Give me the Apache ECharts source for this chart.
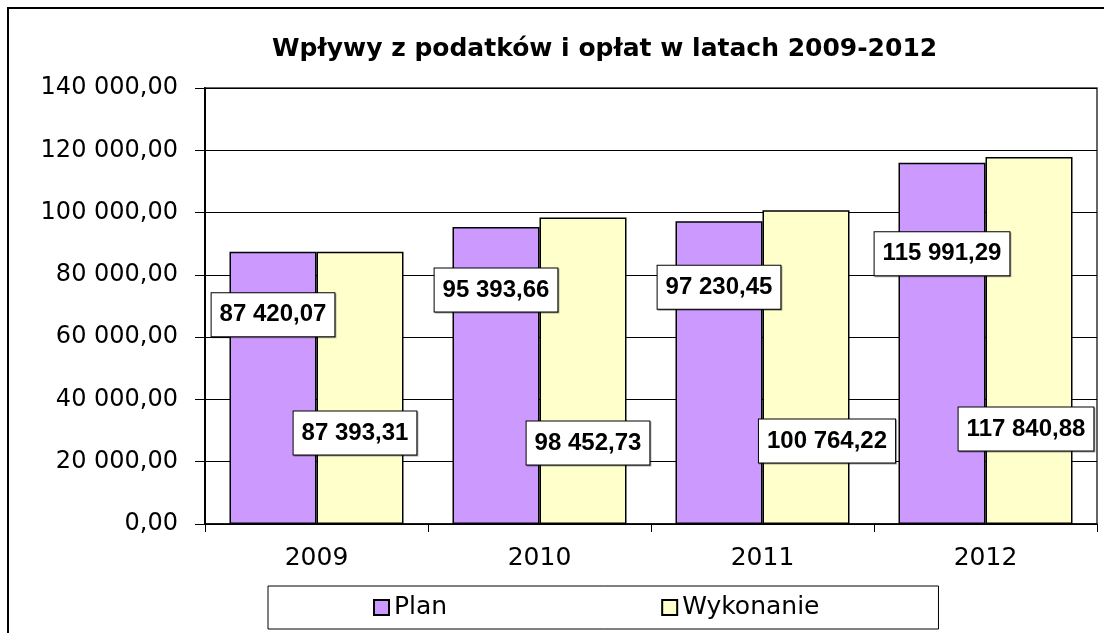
<!DOCTYPE html>
<html lang="pl">
<head>
    <meta charset="UTF-8">
    <title>Wpływy z podatków i opłat</title>
    <script src="https://cdn.jsdelivr.net/npm/echarts@6/dist/echarts.min.js"></script>
    <style>
        html, body { margin: 0; padding: 0; background: #fff; }
    </style>
</head>
<body>
<div id="chart" style="width: 1104px; height: 633px;"></div>
<script>
    var years = ['2009', '2010', '2011', '2012'];
    var plan = [87420.07, 95393.66, 97230.45, 115991.29];
    var wykonanie = [87393.31, 98452.73, 100764.22, 117840.88];

    // where Excel had the value boxes dragged to (px)
    var planLabelDown = [63, 63, 66, 91];
    var wykLabelUp = [91, 81, 83, 95];
    var wykLabelDx = [-5, 5, 21, -3];

    function fmt(v, dec) {
        var parts = v.toFixed(dec).split('.');
        var s = parts[0].replace(/\B(?=(\d{3})+(?!\d))/g, ' ');
        return s + ',' + (parts[1] || '00');
    }

    var labelBox = {
        show: true,
        align: 'center',
        verticalAlign: 'middle',
        fontFamily: 'Liberation Sans',
        fontWeight: 'bold',
        fontSize: 24,
        lineHeight: 24,
        color: '#000',
        backgroundColor: '#fff',
        borderColor: '#000',
        borderWidth: 1,
        padding: [10, 8, 9, 8],
        shadowColor: 'rgba(0,0,0,0.35)',
        shadowOffsetX: 1,
        shadowOffsetY: 1,
        formatter: function (p) { return fmt(p.value, 2); }
    };

    var planData = plan.map(function (v, i) {
        return {
            value: v,
            label: Object.assign({}, labelBox, {position: ['50%', planLabelDown[i]]})
        };
    });
    var wykData = wykonanie.map(function (v, i) {
        return {
            value: v,
            label: Object.assign({}, labelBox, {position: ['50%', '100%'], offset: [wykLabelDx[i], -wykLabelUp[i]]})
        };
    });

    var chart = echarts.init(document.getElementById('chart'));
    chart.setOption({
        backgroundColor: '#fff',
        animation: false,
        title: {
            text: 'Wpływy z podatków i opłat w latach 2009-2012',
            left: 272,
            top: 37,
            padding: 0,
            textStyle: {
                fontFamily: 'DejaVu Sans',
                fontWeight: 'bold',
                fontSize: 25,
                color: '#000'
            }
        },
        graphic: [{
            type: 'rect',
            silent: true,
            z: 100,
            shape: {x: 8, y: 8, width: 1200, height: 700},
            style: {fill: 'none', stroke: '#000', lineWidth: 2}
        }],
        legend: {
            left: 268,
            top: 586,
            padding: [9, 119, 9, 105],
            itemGap: 214,
            itemWidth: 15,
            itemHeight: 15,
            borderColor: '#000',
            borderWidth: 1,
            icon: 'rect',
            textStyle: {
                fontFamily: 'DejaVu Sans',
                fontSize: 25,
                color: '#000'
            },
            data: ['Plan', 'Wykonanie']
        },
        grid: {
            left: 205,
            right: 7,
            top: 88,
            bottom: 109,
            show: true,
            borderColor: '#333',
            borderWidth: 1.5,
            containLabel: false
        },
        xAxis: {
            type: 'category',
            data: years,
            axisLine: {lineStyle: {color: '#000', width: 1.5}},
            axisTick: {show: true, length: 8, lineStyle: {color: '#000'}},
            axisLabel: {
                margin: 22,
                fontFamily: 'DejaVu Sans',
                fontSize: 25,
                color: '#000'
            }
        },
        yAxis: {
            type: 'value',
            min: 0,
            max: 140000,
            interval: 20000,
            axisLine: {show: true, lineStyle: {color: '#000', width: 2}},
            axisTick: {show: true, length: 10, lineStyle: {color: '#000'}},
            splitLine: {lineStyle: {color: '#000', width: 1}},
            axisLabel: {
                margin: 27,
                fontFamily: 'DejaVu Sans',
                fontSize: 24,
                color: '#000',
                formatter: function (v) { return fmt(v, 2); }
            }
        },
        series: [{
            name: 'Plan',
            type: 'bar',
            barWidth: 87,
            barGap: '0%',
            itemStyle: {color: '#CC99FF', borderColor: '#000', borderWidth: 1.5},
            data: planData
        }, {
            name: 'Wykonanie',
            type: 'bar',
            barWidth: 87,
            barGap: '0%',
            itemStyle: {color: '#FFFFCC', borderColor: '#000', borderWidth: 1.5},
            data: wykData
        }]
    });
</script>
</body>
</html>
